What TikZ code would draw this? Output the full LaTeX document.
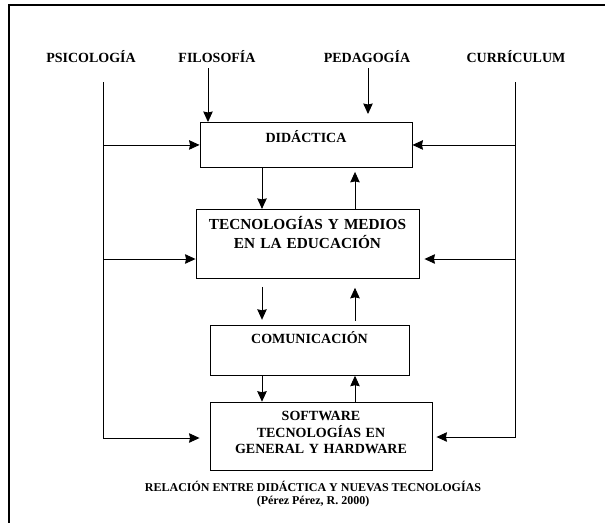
\documentclass[tikz,border=0pt]{standalone}
\usepackage{fontspec}
\setmainfont{Liberation Serif}
\usetikzlibrary{arrows.meta}
\usetikzlibrary{positioning}
\tikzstyle{box} = [draw, line width=0.9pt, inner sep=0pt, align=center,
font=\fontsize{14}{16.5}\selectfont\bfseries]
\tikzstyle{line} = [draw, line width=0.9pt, -{Stealth[length=10.5pt,width=9.5pt,inset=1pt]}]

\begin{document}
\begin{tikzpicture}[x=1pt, y=-1pt,
	topic/.style={font=\fontsize{14}{16}\selectfont\bfseries},
	frame/.style={draw, line width=1.2pt}]
    \useasboundingbox (0,0) rectangle (605,523);
    \draw [frame] (605,5) -- (9,5) -- (9,523);
    %% Sources
    \node [topic] (psi) at (91,57) {PSICOLOGÍA};
    \node [topic] (filo) at (217,57) {FILOSOFÍA};
    \node [topic] (ped) at (367,57) {PEDAGOGÍA};
    \node [topic] (cur) at (516,57) {CURRÍCULUM};
    %% Boxes
    \node [box, text width=212pt, text height=19.6pt, text depth=25.4pt,
        anchor=north] (did) at (306,122) {DIDÁCTICA};
    \node [box, below=41pt of did, xshift=1.5pt, text width=223pt,
        text height=20pt, text depth=49pt,
        font=\fontsize{15.3}{19}\selectfont\bfseries] (tec)
        {TECNOLOGÍAS Y MEDIOS\\EN LA EDUCACIÓN};
    \node [box, below=46pt of tec, xshift=2pt, text width=199pt,
        text height=18.6pt, text depth=31.4pt] (com) {COMUNICACIÓN};
    \node [box, below=26pt of com, xshift=11.5pt, text width=222pt,
        text height=18.6pt, text depth=49.4pt] (sof)
        {SOFTWARE\\TECNOLOGÍAS EN\\GENERAL Y HARDWARE};
    \node [font=\fontsize{12}{12.5}\selectfont\bfseries, align=center] (cap)
        at (313,494) {RELACIÓN ENTRE DIDÁCTICA Y NUEVAS TECNOLOGÍAS\\(Pérez Pérez, R. 2000)};
    %% Side lines
    \coordinate (psiTop) at (103,82);
    \coordinate (psiMid) at (103,259);
    \coordinate (psiBot) at (103,438);
    \coordinate (curTop) at (515,82);
    \coordinate (curMid) at (515,259);
    \coordinate (curBot) at (515,437);
    \path [line, shorten >=10pt] (psiTop) |- (psiBot -| sof.west);
    \path [line] (psiTop |- did.west) -- (did.west);
    \path [line] (psiMid) -- (psiMid -| tec.west);
    \path [line, shorten >=4pt] (curTop) |- (curBot -| sof.east);
    \path [line] (curTop |- did.east) -- (did.east);
    \path [line, shorten >=5pt] (curMid) -- (curMid -| tec.east);
    %% Arrows from the top
    \coordinate (filoA) at (208,68);
    \coordinate (pedA) at (368,68);
    \path [line] (filoA) -- (filoA |- did.north);
    \path [line, shorten >=8pt] (pedA) -- (pedA |- did.north);
    %% Arrows between boxes
    \coordinate (dn) at (262,0);
    \coordinate (up) at (355,0);
    \path [line] (did.south -| dn) -- (tec.north -| dn);
    \path [line, shorten >=4pt] (tec.north -| up) -- (did.south -| up);
    \path [line, shorten <=8pt, shorten >=5pt] (tec.south -| dn) -- (com.north -| dn);
    \path [line, shorten <=4pt, shorten >=9pt] (com.north -| up) -- (tec.south -| up);
    \path [line] (com.south -| dn) -- (sof.north -| dn);
    \path [line] (sof.north -| up) -- (com.south -| up);
\end{tikzpicture}
\end{document}
